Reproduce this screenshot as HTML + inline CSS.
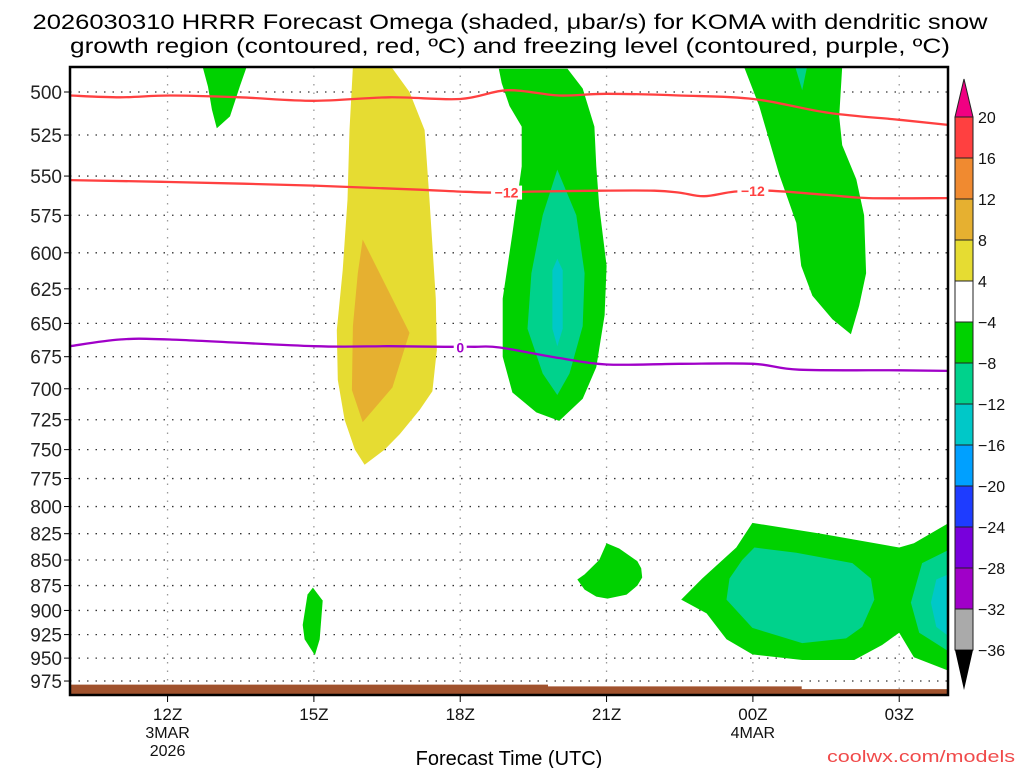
<!DOCTYPE html>
<html><head><meta charset="utf-8"><style>
html,body{margin:0;padding:0;background:#fff;width:1024px;height:768px;overflow:hidden}
svg{display:block}
text{font-family:"Liberation Sans",sans-serif}
</style></head><body>
<svg id="chart" width="1024" height="768" viewBox="0 0 1024 768" xmlns="http://www.w3.org/2000/svg">
<text x="510" y="29" text-anchor="middle" font-size="21" textLength="955" lengthAdjust="spacingAndGlyphs">2026030310 HRRR Forecast Omega (shaded, μbar/s) for KOMA with dendritic snow</text>
<text x="510" y="53" text-anchor="middle" font-size="21" textLength="880" lengthAdjust="spacingAndGlyphs">growth region (contoured, red, ºC) and freezing level (contoured, purple, ºC)</text>
<defs><clipPath id="plotclip"><rect x="70" y="67" width="878" height="628"/></clipPath></defs>
<g id="grid"></g>
<g id="shade" clip-path="url(#plotclip)"></g>
<g id="lines" clip-path="url(#plotclip)"></g>
<g id="axes"></g>
<g id="cbar"></g>
<text x="509" y="765" text-anchor="middle" font-size="20">Forecast Time (UTC)</text>
<text x="1015" y="762" text-anchor="end" font-size="17" fill="#f04a4a" textLength="188" lengthAdjust="spacingAndGlyphs">coolwx.com/models</text>
</svg>
<script>
// ---- data ----
const pressureTicks = [500,525,550,575,600,625,650,675,700,725,750,775,800,825,850,875,900,925,950,975];
const hourTicks = [12,15,18,21,24,27];
const hourLabels = ["12Z","15Z","18Z","21Z","00Z","03Z"];
const hourSubLabels = [["3MAR","2026"],[],[],[],["4MAR"],[]];
const cbarLevels = [20,16,12,8,4,-4,-8,-12,-16,-20,-24,-28,-32,-36];
const cbarColors = ["#ff4040","#f08a30","#e6b030","#e6dc32","#ffffff","#00d200","#00d28c","#00c8c8","#00a0ff","#1e3cff","#7800dc","#a000c8","#aaaaaa"];
// shaded omega regions: [hour, pressure]
const yellowArea = [[15.80,486],[16.59,486],[16.96,500],[17.27,522],[17.37,565],[17.50,632],[17.52,670],[17.43,702],[17.17,717],[16.76,737],[16.45,750],[16.04,763],[15.84,750],[15.63,725],[15.49,693],[15.47,655],[15.59,612],[15.69,565],[15.73,522]];
const orangeArea = [[16.0,591],[16.96,657],[16.61,699],[16.0,727],[15.78,701],[15.80,652],[15.90,614]];
const greenA = [[18.79,487],[20.20,487],[20.51,498],[20.75,520],[20.79,544],[20.85,569],[21.0,609],[20.96,644],[20.79,683],[20.51,708],[20.03,726],[19.56,719],[19.07,703],[18.87,675],[18.87,632],[19.07,587],[19.26,544],[19.26,520],[19.01,508],[18.85,495]];
const tealA = [[19.99,546],[20.38,575],[20.55,614],[20.51,652],[20.24,688],[19.99,705],[19.69,688],[19.38,654],[19.46,614],[19.69,575]];
const cyanA = [[19.99,604],[20.10,612],[20.10,654],[19.99,667],[19.89,654],[19.89,612]];
const greenB = [[23.82,486],[25.83,486],[25.77,514],[25.83,531],[26.12,552],[26.28,575],[26.32,614],[26.18,637],[26.01,658],[25.63,647],[25.22,630],[24.99,609],[24.89,580],[24.54,549],[24.13,508]];
const tealB = [[24.87,486],[25.11,486],[25.01,499]];
const greenC = [[12.72,486],[13.62,486],[13.48,497],[13.28,514],[13.01,521],[12.91,510],[12.83,497]];
const greenD = [[14.98,877],[15.18,890],[15.12,930],[15.02,947],[14.81,930],[14.77,915],[14.87,884]];
const greenE = [[21.0,834],[21.26,839],[21.63,851],[21.71,858],[21.73,867],[21.63,875],[21.41,884],[21.02,888],[20.79,886],[20.55,879],[20.40,869],[20.55,864],[20.85,850]];
const greenF = [[23.99,815],[25.40,825],[27.0,838],[27.30,834],[27.98,816],[28.2,816],[28.2,965],[27.98,963],[27.30,949],[27.0,923],[26.65,936],[26.08,952],[25.01,952],[23.99,946],[23.46,930],[23.05,903],[22.53,889],[22.96,868],[23.66,838]];
const tealF = [[24.03,838],[24.89,843],[26.04,853],[26.42,868],[26.49,889],[26.24,917],[25.91,929],[25.01,934],[23.99,918],[23.46,889],[23.52,868],[23.78,850]];
const tealG = [[28.2,836],[27.47,853],[27.24,892],[27.41,923],[28.2,949]];
const cyanG = [[28.2,860],[27.76,869],[27.65,892],[27.76,917],[28.2,934]];
const surfaceHours = [10,19.8,19.8,25.0,25.0,28.2];
const surfaceP = [979,979,981,981,984,984];
// contour lines
const redUpperHours = [10,11.02,12.05,13.48,15,16.55,18,18.97,20.03,21,22.49,24.01,25.56,27,28];
const redUpperP = [502,503,502,503,505,503,504,499,502,501,502,504,512,516,519];
const redLowerHours = [10,12.05,15,17.17,18,18.70,19.42,20.85,21.98,22.49,23.0,23.62,24.34,25.56,26.38,28];
const redLowerP = [552.5,553.7,556,558.6,559.8,560.4,559.8,559.2,559.2,560.4,562.7,559.8,559.2,562,563.9,563.9];
const purpleHours = [10,11.02,12.05,15,16.55,17.68,18.29,18.81,20.03,21,22.49,24.01,24.95,27,28];
const purpleP = [667,662,662,667,667,667.5,667.5,668,676,681,680.5,680.5,685,685.5,686];
const contourLabels = [["−12",18.95,560.4,"#ff4040"],["−12",24.0,559.5,"#ff4040"],["0",18.0,668,"#a000c8"]];

// ---- scales ----
const X0=70, X1=948, Y0=67, Y1=695;
const xs = h => X0 + (h-10)*(X1-X0)/18;
const ys = p => 92 + 882*Math.log(p/500);
const NS="http://www.w3.org/2000/svg";
function mk(tag, parent, attrs){const e=document.createElementNS(NS,tag);for(const k in attrs)e.setAttribute(k,attrs[k]);parent.appendChild(e);return e;}
const grid=document.getElementById('grid'), shade=document.getElementById('shade'), lines=document.getElementById('lines'), axes=document.getElementById('axes'), cbar=document.getElementById('cbar');

// grid
pressureTicks.forEach(p=>{
  const l=mk('line',grid,{x1:X0,x2:X1,y1:ys(p),y2:ys(p),stroke:'#333','stroke-width':1.3,'stroke-dasharray':'1.5 7'});
  
  
});
hourTicks.forEach(h=>{
  const l=mk('line',grid,{x1:xs(h),x2:xs(h),y1:Y0,y2:Y1,stroke:'#999','stroke-width':1.3,'stroke-dasharray':'1.5 7'});
  
  
});

// shading
const pts = arr => arr.map(d=>xs(d[0]).toFixed(1)+','+ys(d[1]).toFixed(1)).join(' ');
const areas=[[yellowArea,'#e6dc32','yellow-area'],[orangeArea,'#e6b030','orange-area'],[greenA,'#00d200','green-area-a'],[tealA,'#00d28c','teal-area-a'],[cyanA,'#00c8c8','cyan-area-a'],[greenB,'#00d200','green-area-b'],[tealB,'#00d28c','teal-area-b'],[greenC,'#00d200','green-area-c'],[greenD,'#00d200','green-area-d'],[greenE,'#00d200','green-area-e'],[greenF,'#00d200','green-area-f'],[tealF,'#00d28c','teal-area-f'],[tealG,'#00d28c','teal-area-g'],[cyanG,'#00c8c8','cyan-area-g']];
areas.forEach(a=>{
  const e=mk('polygon',shade,{points:pts(a[0]),fill:a[1]});
  
  
});
// surface
const surf=surfaceHours.map((h,i)=>[h,surfaceP[i]]);
const sp=pts(surf)+' '+xs(28.2)+','+(Y1+5)+' '+xs(10)+','+(Y1+5);
const se=mk('polygon',shade,{points:sp,fill:'#a0522d'});



// lines (smoothed Catmull-Rom)
function drawLine(hs,ps,color,name){
  const P=hs.map((h,i)=>[xs(h),ys(ps[i])]);
  let d='M'+P[0][0].toFixed(1)+','+P[0][1].toFixed(1);
  for(let i=0;i<P.length-1;i++){
    const p0=P[Math.max(0,i-1)],p1=P[i],p2=P[i+1],p3=P[Math.min(P.length-1,i+2)];
    const c1=[p1[0]+(p2[0]-p0[0])/6,p1[1]+(p2[1]-p0[1])/6];
    const c2=[p2[0]-(p3[0]-p1[0])/6,p2[1]-(p3[1]-p1[1])/6];
    d+=' C'+c1[0].toFixed(1)+','+c1[1].toFixed(1)+' '+c2[0].toFixed(1)+','+c2[1].toFixed(1)+' '+p2[0].toFixed(1)+','+p2[1].toFixed(1);
  }
  const e=mk('path',lines,{d:d,fill:'none',stroke:color,'stroke-width':2.3});
  
  
}
drawLine(redUpperHours,redUpperP,'#ff4040','dgz-upper-contour');
drawLine(redLowerHours,redLowerP,'#ff4040','dgz-minus12-contour');
drawLine(purpleHours,purpleP,'#a000c8','freezing-level-contour');
contourLabels.forEach(c=>{
  const w=c[0].length*9+4;
  const bg=mk('rect',lines,{x:xs(c[1])-w/2,y:ys(c[2])-7,width:w,height:14,fill:'#fff'});
  
  
  const t=mk('text',lines,{x:xs(c[1]),y:ys(c[2])+5,'text-anchor':'middle','font-size':14,'font-weight':'bold',fill:c[3]});
  t.textContent=c[0];
  
  
});

// axes
const fr=mk('rect',axes,{x:X0,y:Y0,width:X1-X0,height:Y1-Y0,fill:'none',stroke:'#000','stroke-width':2.5});


pressureTicks.forEach(p=>{
  const tk=mk('line',axes,{x1:X0-6,x2:X0,y1:ys(p),y2:ys(p),stroke:'#000','stroke-width':1});
  
  
  const t=mk('text',axes,{x:X0-8,y:ys(p)+7,'text-anchor':'end','font-size':19,fill:'#222'});
  t.textContent=p;
  
  
});
hourTicks.forEach((h,i)=>{
  const tk=mk('line',axes,{x1:xs(h),x2:xs(h),y1:Y1,y2:Y1+7,stroke:'#000','stroke-width':1});
  
  
  const t=mk('text',axes,{x:xs(h),y:Y1+25,'text-anchor':'middle','font-size':17,fill:'#111'});
  t.textContent=hourLabels[i];
  
  
  hourSubLabels[i].forEach((s,j)=>{
    const u=mk('text',axes,{x:xs(h),y:Y1+43+j*18,'text-anchor':'middle','font-size':16,fill:'#111'});
    u.textContent=s;
    
    
  });
});

// colorbar
const CX=955, CW=18, CT=117, CB=650, step=(CB-CT)/(cbarLevels.length-1);
const tri=mk('polygon',cbar,{points:`${CX},${CT} ${CX+CW},${CT} ${CX+CW/2},${CT-38}`,fill:'#f00082',stroke:'#222','stroke-width':1});


cbarColors.forEach((c,i)=>{
  const r=mk('rect',cbar,{x:CX,y:CT+i*step,width:CW,height:step,fill:c,stroke:'#222','stroke-width':1});
  
  
});
const tri2=mk('polygon',cbar,{points:`${CX},${CB} ${CX+CW},${CB} ${CX+CW/2},${CB+40}`,fill:'#000'});


cbarLevels.forEach((v,i)=>{
  const t=mk('text',cbar,{x:CX+CW+5,y:CT+i*step+6,'font-size':16,fill:'#111'});
  t.textContent=v<0?('−'+(-v)):String(v);
  
  
});
</script>
</body></html>
